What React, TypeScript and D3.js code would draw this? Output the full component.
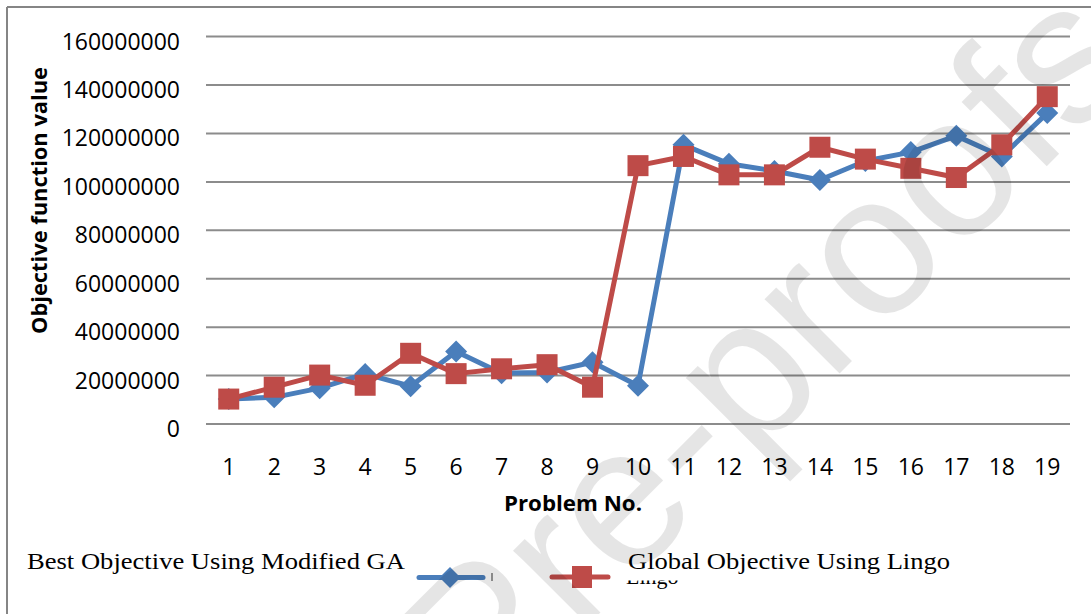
import React from "react";
import * as d3 from "d3";

const problems = ["1","2","3","4","5","6","7","8","9","10","11","12","13","14","15","16","17","18","19"];
const gaValues = [10.3e6, 11.0e6, 14.8e6, 20.7e6, 15.6e6, 29.9e6, 21.0e6, 21.3e6, 25.5e6, 15.8e6, 115.3e6, 107.5e6, 104.5e6, 100.8e6, 108.6e6, 112.3e6, 119.0e6, 110.5e6, 128.4e6];
const lingoValues = [10.3e6, 15.2e6, 20.2e6, 16.0e6, 29.2e6, 20.8e6, 22.8e6, 24.5e6, 15.2e6, 106.7e6, 110.5e6, 102.9e6, 102.9e6, 114.3e6, 109.4e6, 105.6e6, 101.8e6, 115.3e6, 135.2e6];
const yTicks = [0, 20000000, 40000000, 60000000, 80000000, 100000000, 120000000, 140000000, 160000000];
const seriesNames = ["Best Objective Using Modified GA", "Global Objective Using Lingo"];

const BLUE = "#4a7ebb";
const RED = "#be4b48";
const SANS = "'Open Sans', sans-serif";
const SERIF = "'Liberation Serif', 'Times New Roman', serif";

export default function App() {
  const W = 1091, H = 614;
  const x = d3.scalePoint<string>().domain(problems).range([206, 1070]).padding(0.5);
  const y = d3.scaleLinear().domain([0, 160000000]).range([424, 36.6]);
  const line = d3.line<number>().x((_, i) => x(problems[i]) as number).y((d) => y(d));

  const diamond = (cx: number, cy: number, r: number) =>
    `M${cx},${cy - r}L${cx + r},${cy}L${cx},${cy + r}L${cx - r},${cy}Z`;

  return (
    <svg width={W} height={H} style={{ position: "absolute", left: 0, top: 0, background: "#fff" }}>
      <defs>
        <clipPath id="lingoClip">
          <rect x={600} y={580.5} width={120} height={20} />
        </clipPath>
      </defs>
      <rect x={0} y={0} width={W} height={H} fill="#fff" />
      {/* frame */}
      <line x1={7} y1={7} x2={W} y2={7} stroke="#858585" strokeWidth={2} />
      <line x1={7} y1={7} x2={7} y2={H} stroke="#858585" strokeWidth={2} />

      {/* gridlines */}
      {yTicks.map((t) => (
        <line key={t} x1={206} x2={1070} y1={y(t)} y2={y(t)} stroke="#8c8c8c" strokeWidth={2} />
      ))}
      {/* y tick labels */}
      {yTicks.map((t) => (
        <text key={"l" + t} x={180} y={y(t) + 13} textAnchor="end" fontFamily={SANS} fontSize={23} fill="#000">
          {String(t)}
        </text>
      ))}
      {/* x tick labels */}
      {problems.map((p) => (
        <text key={"x" + p} x={x(p) as number} y={475} textAnchor="middle" fontFamily={SANS} fontSize={23} fill="#000">
          {p}
        </text>
      ))}
      {/* axis titles */}
      <text transform="translate(47,200.5) rotate(-90)" textAnchor="middle" fontFamily={SANS} fontWeight="bold" fontSize={22} textLength={267} lengthAdjust="spacingAndGlyphs">
        Objective function value
      </text>
      <text x={573} y={511} textAnchor="middle" fontFamily={SANS} fontWeight="bold" fontSize={22} textLength={138} lengthAdjust="spacingAndGlyphs">
        Problem No.
      </text>

      {/* series GA */}
      <path d={line(gaValues) as string} fill="none" stroke={BLUE} strokeWidth={5} strokeLinejoin="round" />
      {gaValues.map((v, i) => (
        <path key={"d" + i} d={diamond(x(problems[i]) as number, y(v), 11)} fill={BLUE} />
      ))}
      {/* series Lingo */}
      <path d={line(lingoValues) as string} fill="none" stroke={RED} strokeWidth={5} strokeLinejoin="round" />
      {lingoValues.map((v, i) => (
        <rect key={"s" + i} x={(x(problems[i]) as number) - 10.5} y={y(v) - 10.5} width={21} height={21} fill={RED} />
      ))}

      {/* legend */}
      <text x={27} y={569} fontFamily={SERIF} fontSize={24} textLength={378} lengthAdjust="spacingAndGlyphs">
        {seriesNames[0]}
      </text>
      <line x1={419} x2={483} y1={577.5} y2={577.5} stroke={BLUE} strokeWidth={5} strokeLinecap="round" />
      <path d={diamond(450, 577.5, 10.5)} fill={BLUE} />
      <line x1={492} x2={492} y1={573} y2={581} stroke="#555" strokeWidth={1.2} />
      <line x1={552} x2={608} y1={577} y2={577} stroke={RED} strokeWidth={5} strokeLinecap="round" />
      <rect x={572} y={566} width={20} height={22} fill={RED} />
      <text x={628} y={569} fontFamily={SERIF} fontSize={24} textLength={322} lengthAdjust="spacingAndGlyphs">
        {seriesNames[1]}
      </text>
      <text x={626} y={584} fontFamily={SERIF} fontSize={22} clipPath="url(#lingoClip)">
        Lingo
      </text>

      {/* watermark */}
      <text transform="translate(484,729) rotate(-45)" fontFamily="'Liberation Sans', Arial, sans-serif" fontSize={200} fill="#000" fillOpacity={0.1}>
        Pre-proofs
      </text>
    </svg>
  );
}
